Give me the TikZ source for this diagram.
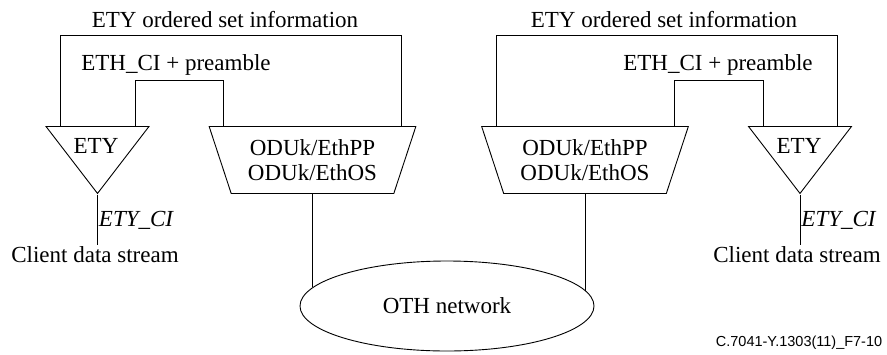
\documentclass[tikz,border=0pt]{standalone}
\usepackage{fontspec}
\setmainfont{Liberation Serif}
\setsansfont{Liberation Sans}
\usetikzlibrary{shapes.geometric,positioning}

\tikzset{
    every node/.style={font=\fontsize{23}{25}\selectfont},
    etybox/.style={draw, isosceles triangle, shape border rotate=270, isosceles triangle stretches,
        minimum width=103pt, minimum height=67pt, inner sep=0pt},
    oduk/.style={draw, trapezium, trapezium left angle=113, trapezium right angle=113, trapezium stretches,
        minimum width=207pt, minimum height=67pt, align=center, inner sep=0pt},
    sigtext/.style={inner sep=1pt}
}

\begin{document}
\begin{tikzpicture}[x=1pt,y=-1pt,line width=0.9pt]
                \useasboundingbox (0,0) rectangle (887,354);
                % adaptation functions
                \node[etybox,anchor=lower side] (etyL) at (97.5,126) {};
                \node[etybox,anchor=lower side] (etyR) at (800,126) {};
                \node (etyLt) at (96,146) {ETY};
                \node (etyRt) at (799,146) {ETY};
                \node[oduk,anchor=top side] (oduL) at (312.5,126) {ODUk/EthPP\\ODUk/EthOS};
                \node[oduk,anchor=top side] (oduR) at (585,126) {ODUk/EthPP\\ODUk/EthOS};
                \node[draw,ellipse,minimum width=294pt,minimum height=90pt] (net) at (447,306) {OTH network};
                % signal labels
                \node[sigtext] (osL) at (225,20) {ETY ordered set information};
                \node[sigtext] (osR) at (664,20) {ETY ordered set information};
                \node[sigtext] (ciL) at (176,65) {ETH\_CI + preamble};
                \node[sigtext] (ciR) at (718,65) {ETH\_CI + preamble};
                \node[sigtext] (cdsL) at (95,255) {Client data stream};
                \node[sigtext] (cdsR) at (797,255) {Client data stream};
                \node[font=\sffamily\fontsize{14.5}{16}\selectfont,anchor=east] (fig) at (886,343) {C.7041-Y.1303(11)\_F7-10};
                % connections
                \draw ([xshift=-37.5pt]etyL.lower side) -- ++(0,-91) -| ([xshift=88.5pt]oduL.top side);
                \draw ([xshift=37.5pt]etyL.lower side) -- ++(0,-46) -| ([xshift=-89.5pt]oduL.top side);
                \draw ([xshift=37pt]etyR.lower side) -- ++(0,-91) -| ([xshift=-89pt]oduR.top side);
                \draw ([xshift=-37pt]etyR.lower side) -- ++(0,-46) -| ([xshift=89pt]oduR.top side);
                \draw (etyL.apex) -- (etyL.apex |- cdsL.north) node[midway,right=0pt,sigtext] (ciLt) {\itshape ETY\_CI};
                \draw (etyR.apex) -- (etyR.apex |- cdsR.north) node[midway,right=0pt,sigtext] (ciRt) {\itshape ETY\_CI};
                \draw (oduL.bottom side) -- (net.172.4 -| oduL.bottom side);
                \draw (oduR.bottom side) -- (net.6.4 -| oduR.bottom side);
            \end{tikzpicture}
\end{document}
